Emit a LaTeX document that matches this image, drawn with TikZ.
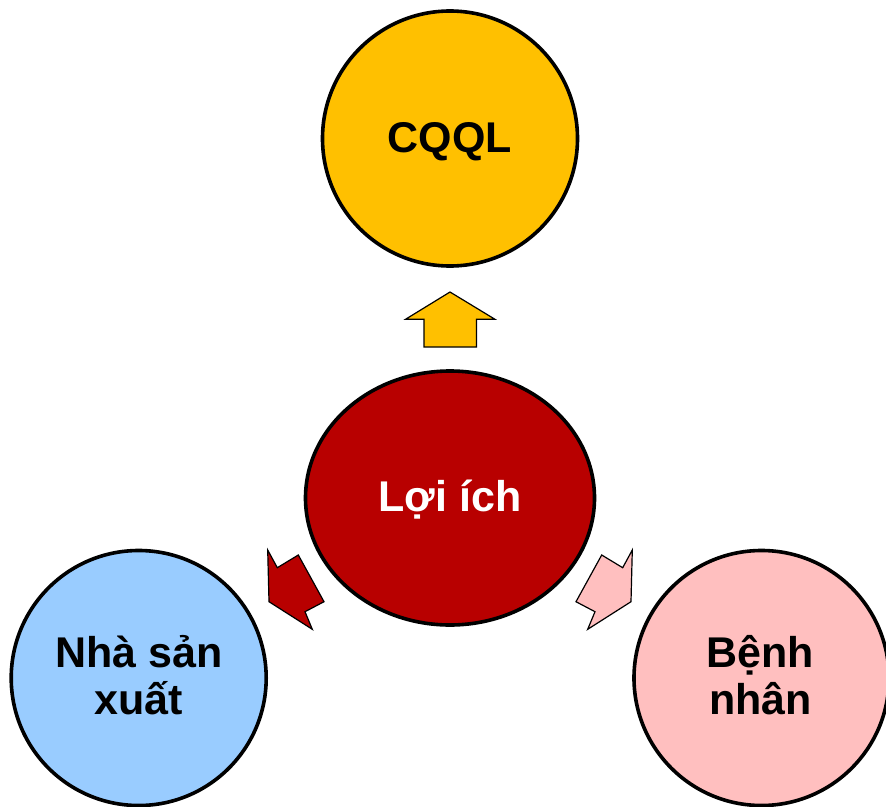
\documentclass[tikz,border=0pt]{standalone}
\usepackage{fontspec}
\setmainfont{Liberation Sans}
\usetikzlibrary{shapes.geometric}
\definecolor{gold}{HTML}{FFC000}
\definecolor{darkred}{HTML}{B80000}
\definecolor{skyblue}{HTML}{99CCFF}
\definecolor{rosepink}{HTML}{FFBFBF}
\tikzset{
  bubble/.style={circle, draw=black, line width=3.6pt, minimum size=255pt, inner sep=0pt},
  hub/.style={ellipse, draw=black, line width=3.6pt, minimum width=289pt, minimum height=254pt, inner sep=0pt},
  lbl/.style={anchor=base, inner sep=0pt, font=\fontsize{43}{46}\selectfont\bfseries},
  blockarrow/.style={draw=black, line width=1.2pt, line join=miter}
}
\begin{document}
\begin{tikzpicture}[x=1pt, y=-1pt]
  \useasboundingbox (0,0) rectangle (886,806);

  % four bubbles
  \node[bubble, fill=gold] (cqql) at (450,138.5) {};
  \node[hub, fill=darkred] (loiich) at (450,498) {};
  \node[bubble, fill=skyblue] (nsx) at (138.7,678) {};
  \node[bubble, fill=rosepink] (bn) at (761.5,678) {};

  % labels
  \node[lbl] (tcqql) at (450,152.7) {CQQL};
  \node[lbl, text=white] (tloi) at (450,511.7) {Lợi ích};
  \node[lbl] (tnsx1) at (139,667.7) {Nhà sản};
  \node[lbl] (tnsx2) at (139,714) {xuất};
  \node[lbl] (tbn1) at (760.5,667.7) {Bệnh};
  \node[lbl] (tbn2) at (760.5,714) {nhân};

  % outward block arrows
  \draw[blockarrow, fill=gold]
    (450,292) -- (495,319.3) -- (476.5,319.3) -- (476.5,347)
    -- (424,347) -- (424,319.3) -- (405.5,319.3) -- cycle;
  \draw[blockarrow, fill=darkred]
    (269,601.7) -- (267.7,550) -- (277.3,567.7) -- (298.3,555)
    -- (324,601.7) -- (305,611.7) -- (312.3,629.3) -- cycle;
  \draw[blockarrow, fill=rosepink]
    (631,601.7) -- (632.3,550) -- (622.7,567.7) -- (601.7,555)
    -- (576,601.7) -- (595,611.7) -- (587.7,629.3) -- cycle;
\end{tikzpicture}
\end{document}
